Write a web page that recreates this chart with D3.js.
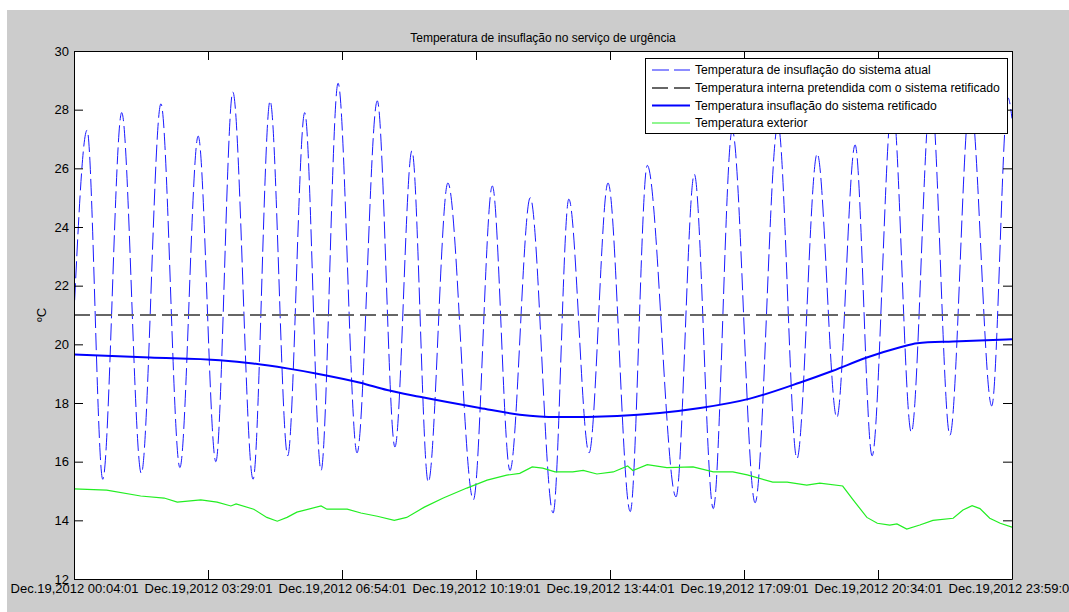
<!DOCTYPE html>
<html>
<head>
<meta charset="utf-8">
<script src="https://cdn.jsdelivr.net/npm/d3@7"></script>
<style>
  html, body { margin: 0; padding: 0; background: #ffffff; }
  svg { display: block; font-family: "Liberation Sans", Arial, sans-serif; }
</style>
</head>
<body>
<svg id="chart" width="1069" height="612"></svg>
<script>
// ---------------- DATA ----------------
const day = "2012-12-19";
const chartTitle = "Temperatura de insuflação no serviço de urgência";
const yLabel = "ºC";
const xTickTimes = ["00:04:01", "03:29:01", "06:54:01", "10:19:01", "13:44:01", "17:09:01", "20:34:01", "23:59:01"];
const yTickValues = [12, 14, 16, 18, 20, 22, 24, 26, 28, 30];
const seriesNames = [
  "Temperatura de insuflação do sistema atual",
  "Temperatura interna pretendida com o sistema retificado",
  "Temperatura insuflação do sistema retificado",
  "Temperatura exterior"
];

// Temperatura de insuflação do sistema atual (dashed blue)
const atualTimes = ["00:05","00:24","00:48","01:17","01:47","02:17","02:46","03:14","03:41","04:07",
  "04:38","05:04","05:31","05:57","06:22","06:48","07:17","07:48","08:15","08:41",
  "09:06","09:36","10:15","10:44","11:11","11:42","12:17","12:41","13:12","13:41",
  "14:15","14:41","15:25","15:53","16:22","16:51","17:26","18:01","18:30","19:01",
  "19:31","19:59","20:25","20:56","21:25","21:55","22:24","22:55","23:28","23:53","23:59"];
const atualValues = [21.5,27.3,15.4,27.9,15.6,28.2,15.8,27.1,16.0,28.6,
  15.4,28.3,16.2,27.9,15.7,28.9,16.3,28.3,16.5,26.6,
  15.3,25.5,14.7,25.4,15.7,25.0,14.25,24.95,16.3,25.5,
  14.3,26.1,14.8,25.8,14.4,27.3,14.6,27.5,16.1,26.5,
  17.5,26.8,16.2,28.3,17.0,28.6,16.9,28.4,17.9,28.4,27.7];

// Temperatura interna pretendida (dashed gray)
const internaTimes = ["00:04", "23:59"];
const internaValues = [21, 21];

// Temperatura insuflação do sistema retificado (solid blue)
const retifTimes = ["00:04","02:00","03:47","04:38","05:30","06:16","07:22","08:03","08:53","10:25",
  "11:26","12:23","13:55","15:00","16:02","17:18","18:35","19:25","20:17","21:08",
  "21:34","22:29","23:59"];
const retifValues = [19.65,19.55,19.46,19.35,19.18,19.0,18.69,18.44,18.21,17.83,
  17.6,17.52,17.56,17.66,17.83,18.15,18.7,19.1,19.55,19.9,
  20.04,20.1,20.17];

// Temperatura exterior (green)
const extTimes = ["00:04","00:54","01:46","02:22","02:42","03:18","03:43","04:04","04:12","04:39",
  "04:59","05:15","05:30","05:45","06:22","06:31","07:02","07:23","07:48","08:14",
  "08:33","09:00","09:29","10:05","10:36","11:06","11:26","11:45","12:01","12:20",
  "12:47","13:03","13:24","13:49","14:11","14:19","14:41","15:11","15:51","16:22",
  "16:52","17:14","17:53","18:15","18:45","19:05","19:40","19:56","20:17","20:33",
  "20:52","21:03","21:18","21:38","21:58","22:29","22:44","22:58","23:10","23:25",
  "23:41","23:59"];
const extValues = [15.07,15.03,14.83,14.76,14.62,14.7,14.62,14.49,14.56,14.38,
  14.1,13.97,14.1,14.28,14.49,14.38,14.38,14.25,14.14,14.0,
  14.1,14.45,14.76,15.1,15.37,15.54,15.6,15.82,15.78,15.65,
  15.65,15.7,15.58,15.65,15.85,15.7,15.9,15.8,15.82,15.65,
  15.65,15.55,15.3,15.3,15.2,15.27,15.17,14.7,14.1,13.9,
  13.84,13.88,13.7,13.84,14.0,14.07,14.35,14.5,14.4,14.07,
  13.9,13.77];

// ---------------- CHART ----------------
const svg = d3.select("#chart");
const W = 1069, H = 612;
const plot = { left: 74, top: 51, right: 1012, bottom: 579 };

// figure background
svg.append("rect").attr("x", 7).attr("y", 10).attr("width", W - 7).attr("height", H - 10).attr("fill", "#cccccc");

const parseHM = d3.timeParse("%Y-%m-%d %H:%M");
const parseHMS = d3.timeParse("%Y-%m-%d %H:%M:%S");
const toDate = t => parseHM(day + " " + t);
const tickDates = xTickTimes.map(t => parseHMS(day + " " + t));

const x = d3.scaleTime()
  .domain([tickDates[0], tickDates[tickDates.length - 1]])
  .range([plot.left, plot.right]);
const y = d3.scaleLinear().domain([12, 30]).range([plot.bottom, plot.top]);

// plot area
svg.append("rect")
  .attr("x", plot.left).attr("y", plot.top)
  .attr("width", plot.right - plot.left).attr("height", plot.bottom - plot.top)
  .attr("fill", "#ffffff");

svg.append("clipPath").attr("id", "clip")
  .append("rect")
  .attr("x", plot.left).attr("y", plot.top)
  .attr("width", plot.right - plot.left).attr("height", plot.bottom - plot.top);

const g = svg.append("g").attr("clip-path", "url(#clip)");

const mk = (times, values) => times.map((t, i) => ({ t: toDate(t), v: values[i] }));
const lineSmooth = d3.line().x(d => x(d.t)).y(d => y(d.v)).curve(d3.curveMonotoneX);
const lineLin = d3.line().x(d => x(d.t)).y(d => y(d.v));

g.append("path").datum(mk(atualTimes, atualValues))
  .attr("d", lineSmooth).attr("fill", "none")
  .attr("stroke", "#1a1aff").attr("stroke-width", 1).attr("stroke-dasharray", "17,5");

g.append("path").datum(mk(internaTimes, internaValues))
  .attr("d", lineLin).attr("fill", "none")
  .attr("stroke", "#666666").attr("stroke-width", 2).attr("stroke-dasharray", "16,6");

g.append("path").datum(mk(retifTimes, retifValues))
  .attr("d", lineSmooth).attr("fill", "none")
  .attr("stroke", "#0000ff").attr("stroke-width", 2);

g.append("path").datum(mk(extTimes, extValues))
  .attr("d", lineLin).attr("fill", "none")
  .attr("stroke", "#22ee22").attr("stroke-width", 1.2);

// axes
const fmt = d3.timeFormat("%b.%d,%Y %H:%M:%S");
const tickLen = 9;

const xAxisB = svg.append("g").attr("transform", `translate(0,${plot.bottom})`)
  .call(d3.axisBottom(x).tickValues(tickDates).tickFormat(fmt).tickSizeInner(-tickLen).tickSizeOuter(0).tickPadding(5));
const xAxisT = svg.append("g").attr("transform", `translate(0,${plot.top})`)
  .call(d3.axisTop(x).tickValues(tickDates).tickFormat("").tickSizeInner(-tickLen).tickSizeOuter(0));
const yAxisL = svg.append("g").attr("transform", `translate(${plot.left},0)`)
  .call(d3.axisLeft(y).tickValues(yTickValues).tickSizeInner(-tickLen).tickSizeOuter(0).tickPadding(5));
const yAxisR = svg.append("g").attr("transform", `translate(${plot.right},0)`)
  .call(d3.axisRight(y).tickValues(yTickValues).tickFormat("").tickSizeInner(-tickLen).tickSizeOuter(0));

[xAxisB, xAxisT, yAxisL, yAxisR].forEach(a => {
  a.selectAll("path.domain").attr("stroke", "#000").attr("stroke-width", 1);
  a.selectAll(".tick line").attr("stroke", "#000").attr("stroke-width", 1);
  a.selectAll("text").attr("fill", "#000").attr("font-size", 13)
    .attr("font-family", '"Liberation Sans", Arial, sans-serif');
});

// title and y label
svg.append("text")
  .attr("x", (plot.left + plot.right) / 2).attr("y", 42)
  .attr("text-anchor", "middle").attr("font-size", 12).attr("fill", "#000")
  .text(chartTitle);

svg.append("text")
  .attr("transform", `translate(46,${(plot.top + plot.bottom) / 2}) rotate(-90)`)
  .attr("text-anchor", "middle").attr("font-size", 13).attr("fill", "#000")
  .text(yLabel);

// legend
const lg = { x: 645, y: 58, w: 362, h: 75 };
svg.append("rect").attr("x", lg.x + 0.5).attr("y", lg.y + 0.5).attr("width", lg.w).attr("height", lg.h)
  .attr("fill", "#ffffff").attr("stroke", "#000").attr("stroke-width", 1);

const legendStyles = [
  { stroke: "#1a1aff", width: 1, dash: "17,5" },
  { stroke: "#666666", width: 2, dash: "16,6" },
  { stroke: "#0000ff", width: 2, dash: null },
  { stroke: "#22ee22", width: 1.2, dash: null }
];
const rowY = [70, 88, 105.5, 123];
seriesNames.forEach((name, i) => {
  const s = legendStyles[i];
  svg.append("line")
    .attr("x1", 652).attr("x2", 690).attr("y1", rowY[i]).attr("y2", rowY[i])
    .attr("stroke", s.stroke).attr("stroke-width", s.width)
    .attr("stroke-dasharray", s.dash);
  svg.append("text").attr("x", 695).attr("y", rowY[i]).attr("dy", "0.35em")
    .attr("font-size", 12.2).attr("fill", "#000").text(name);
});
</script>
</body>
</html>
